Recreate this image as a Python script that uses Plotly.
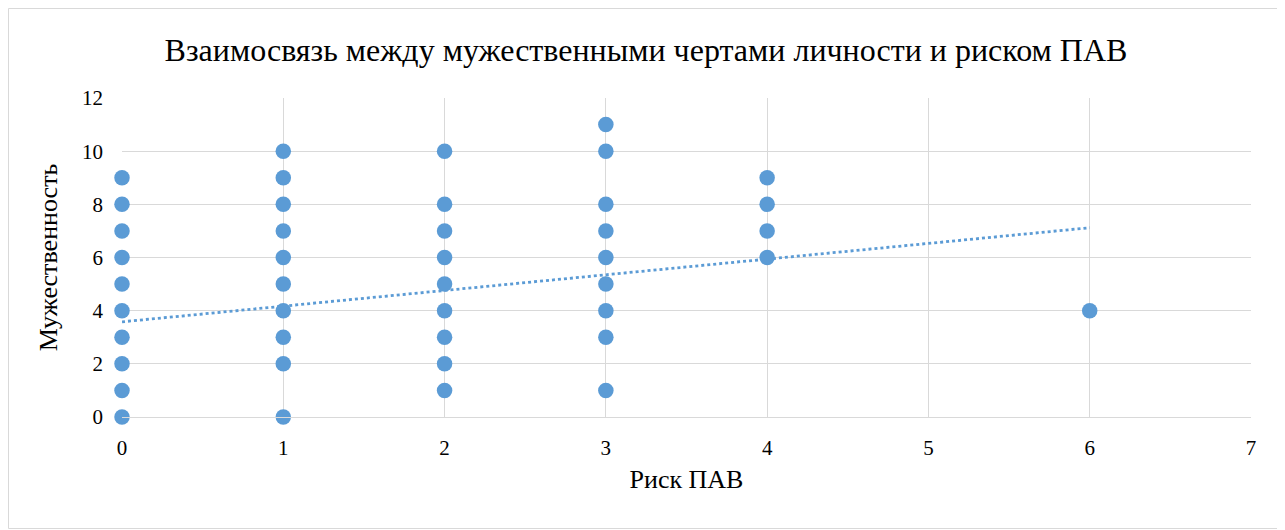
import plotly.graph_objects as go

# Data
risk_x = [0]*10 + [1]*10 + [2]*9 + [3]*9 + [4]*4 + [6]
masc_y = [0, 1, 2, 3, 4, 5, 6, 7, 8, 9,
          0, 2, 3, 4, 5, 6, 7, 8, 9, 10,
          1, 2, 3, 4, 5, 6, 7, 8, 10,
          1, 3, 4, 5, 6, 7, 8, 10, 11,
          6, 7, 8, 9,
          4]
trend_intercept = 3.58
trend_slope = 0.59
trend_x = [0, 6]
trend_y = [trend_intercept + trend_slope * v for v in trend_x]

x_ticks = [0, 1, 2, 3, 4, 5, 6, 7]
y_ticks = [0, 2, 4, 6, 8, 10, 12]

title_text = "Взаимосвязь между мужественными чертами личности и риском ПАВ"
x_title = "Риск ПАВ"
y_title = "Мужественность"

color = "#5b9bd5"
grid = "#d9d9d9"
font_family = "Liberation Serif, Times New Roman, serif"

fig = go.Figure()
fig.add_trace(go.Scatter(x=trend_x, y=trend_y, mode="lines",
                         line=dict(color=color, width=2.8, dash="dot"),
                         showlegend=False, hoverinfo="skip", cliponaxis=False))
fig.add_trace(go.Scatter(x=risk_x, y=masc_y, mode="markers",
                         marker=dict(size=15.5, color=color),
                         showlegend=False, hoverinfo="x+y", cliponaxis=False))

# page body has an 8px offset; figure coordinates = screen - 8
OFF = 8
W, H = 1285, 530
L, T = 122 - OFF, 98 - OFF
pw, ph = 1129, 319
R = W - L - pw
B = H - T - ph

def px_x(p):
    return (p - OFF - L) / pw

def px_y(p):
    return (H - B - (p - OFF)) / ph

fig.add_shape(type="rect", xref="paper", yref="paper",
              x0=px_x(OFF + 0.5), x1=px_x(1281.5), y0=px_y(528.5), y1=px_y(OFF + 0.5),
              line=dict(color=grid, width=1), fillcolor="rgba(0,0,0,0)", layer="below")

fig.update_layout(
    width=W, height=H,
    margin=dict(l=L, r=R, t=T, b=B),
    paper_bgcolor="white", plot_bgcolor="white",
    font=dict(family=font_family, size=21, color="#000000"),
    title=dict(text=title_text, xref="paper", x=px_x(646), xanchor="center",
               y=1 - (50 - OFF) / H, yanchor="middle",
               font=dict(size=32, family=font_family, color="#000000")),
    xaxis=dict(range=[0, 7], tickvals=x_ticks, showgrid=True, gridcolor=grid, gridwidth=1.3,
               zeroline=False, showline=True, linecolor=grid, linewidth=1.3,
               ticks="", ticklabelstandoff=12,
               title=dict(text=x_title, font=dict(size=26), standoff=10),
               tickfont=dict(size=21)),
    yaxis=dict(range=[0, 12], tickvals=y_ticks, showgrid=True, gridcolor=grid, gridwidth=1.3,
               zeroline=False, showline=False,
               ticks="", ticklabelstandoff=18,
               title=dict(text=y_title, font=dict(size=26), standoff=16),
               tickfont=dict(size=21)),
)

fig.write_html("out.html")
